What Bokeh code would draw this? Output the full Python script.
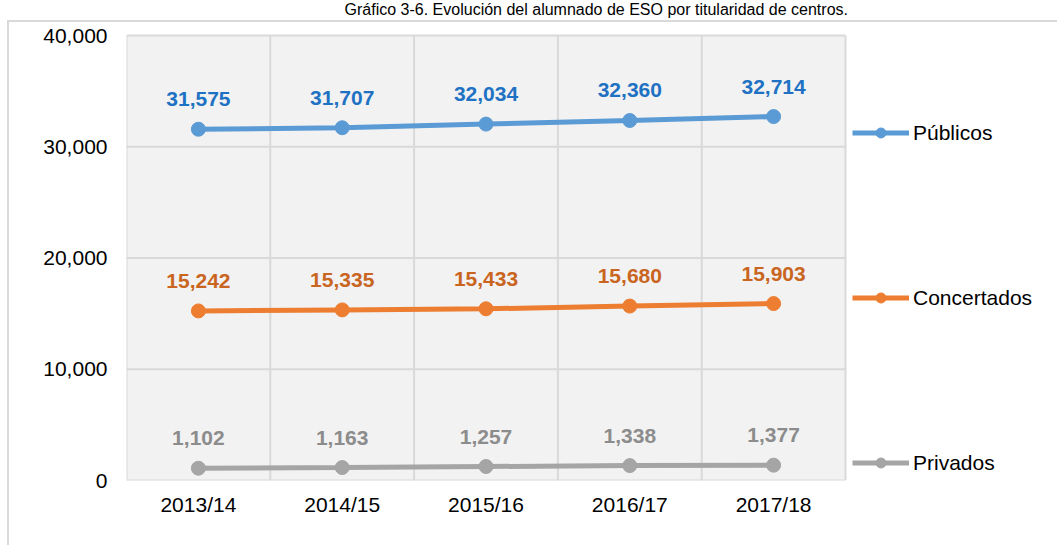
from bokeh.plotting import figure
from bokeh.models import (Range1d, FixedTicker, NumeralTickFormatter, Legend,
                          LegendItem, Label)
from bokeh.core.properties import value
from bokeh.embed import file_html
from bokeh.resources import INLINE

# ---- data ----
periodos = ["2013/14", "2014/15", "2015/16", "2016/17", "2017/18"]
publicos = [31575, 31707, 32034, 32360, 32714]
concertados = [15242, 15335, 15433, 15680, 15903]
privados = [1102, 1163, 1257, 1338, 1377]
series_names = ["Públicos", "Concertados", "Privados"]
y_ticks = [0, 10000, 20000, 30000, 40000]
titulo = "Gráfico 3-6.  Evolución del alumnado de ESO por titularidad de centros."

FONT = "Liberation Sans"
FS = "21px"
line_colors = ["#5B9BD5", "#ED7D31", "#A5A5A5"]
label_colors = ["#1F72C3", "#C9651F", "#8C8C8C"]
GRID = "#D9D9D9"

# ---- layout (canvas pixels) ----
W, H = 1057, 545
PL, PR, PT, PB = 126, 845, 35, 480          # plot area edges
n = len(periodos)
px_per_cat = (PR - PL) / n
x_start = -0.5
x_end = x_start + (W - PL) / px_per_cat       # frame runs to the right edge
y_end = y_ticks[-1] * PB / (PB - PT)          # frame runs to the top edge


def px_x(px):
    return x_start + (px - PL) / px_per_cat


def px_y(py):
    return y_ticks[-1] * (PB - py) / (PB - PT)


p = figure(width=W, height=H, output_backend="svg", toolbar_location=None,
           x_range=Range1d(x_start, x_end),
           y_range=Range1d(y_ticks[0], y_end),
           min_border_left=PL, min_border_right=0,
           min_border_top=0, min_border_bottom=H - PB,
           background_fill_color=None, border_fill_color=None,
           outline_line_color=None)

# outer chart-area border (left and top edges), drawn behind the canvas
p.styles = {
    "background-image": "linear-gradient(#D9D9D9, #D9D9D9), linear-gradient(#D9D9D9, #D9D9D9)",
    "background-size": "100% 2px, 2px 100%",
    "background-position": "7px 20px, 7px 20px",
    "background-repeat": "no-repeat",
    "background-color": "white",
}

# plot area background
p.quad(left=[x_start], right=[n - 0.5], bottom=[y_ticks[0]], top=[y_ticks[-1]],
       fill_color="#F2F2F2", line_color=None, level="image")

# grid lines limited to the plot area
p.xgrid.visible = False
p.ygrid.visible = False
vx = [i - 0.5 for i in range(n + 1)]
p.segment(x0=vx, x1=vx, y0=[y_ticks[0]] * len(vx), y1=[y_ticks[-1]] * len(vx),
          line_color=GRID, line_width=2, level="underlay")
p.segment(x0=[x_start] * len(y_ticks), x1=[n - 0.5] * len(y_ticks),
          y0=y_ticks, y1=y_ticks, line_color=GRID, line_width=2,
          level="underlay")

# axes
xs = list(range(n))
p.xaxis.ticker = FixedTicker(ticks=xs)
p.xaxis.major_label_overrides = {i: periodos[i] for i in xs}
p.yaxis.ticker = FixedTicker(ticks=y_ticks)
p.yaxis.formatter = NumeralTickFormatter(format="0,0")
for ax in (p.xaxis, p.yaxis):
    ax.axis_line_color = None
    ax.major_tick_line_color = None
    ax.minor_tick_line_color = None
    ax.major_tick_in = 0
    ax.major_tick_out = 0
    ax.major_label_text_font = FONT
    ax.major_label_text_font_size = FS
    ax.major_label_text_color = "#000000"
p.xaxis.major_label_standoff = 12
p.yaxis.major_label_standoff = 19

# title
p.add_layout(Label(x=px_x(598), y=px_y(9), text=titulo,
                   text_font=FONT, text_font_size="16px", text_color="#000000",
                   text_align="center", text_baseline="middle"))

items = []
for name, vals, lc, tc in zip(series_names, [publicos, concertados, privados],
                              line_colors, label_colors):
    r1 = p.line(xs, vals, line_color=lc, line_width=5)
    r2 = p.scatter(xs, vals, marker="circle", size=14, fill_color=lc,
                   line_color=lc)
    p.text(xs, vals, text=[f"{v:,}" for v in vals], y_offset=-30,
           text_align="center", text_baseline="middle",
           text_font=value(FONT), text_font_style="bold",
           text_font_size=FS, text_color=tc)
    items.append(LegendItem(label=name, renderers=[r1, r2]))

legend = Legend(items=items, location=(852 - PL, 5), orientation="vertical",
                spacing=140, glyph_width=57, glyph_height=25, label_height=25,
                label_standoff=4, padding=0, margin=0,
                border_line_color=None, background_fill_alpha=0,
                label_text_font=FONT, label_text_font_size=FS,
                label_text_color="#000000")
p.add_layout(legend, "center")

open("out.html", "w").write(file_html(p, INLINE))
